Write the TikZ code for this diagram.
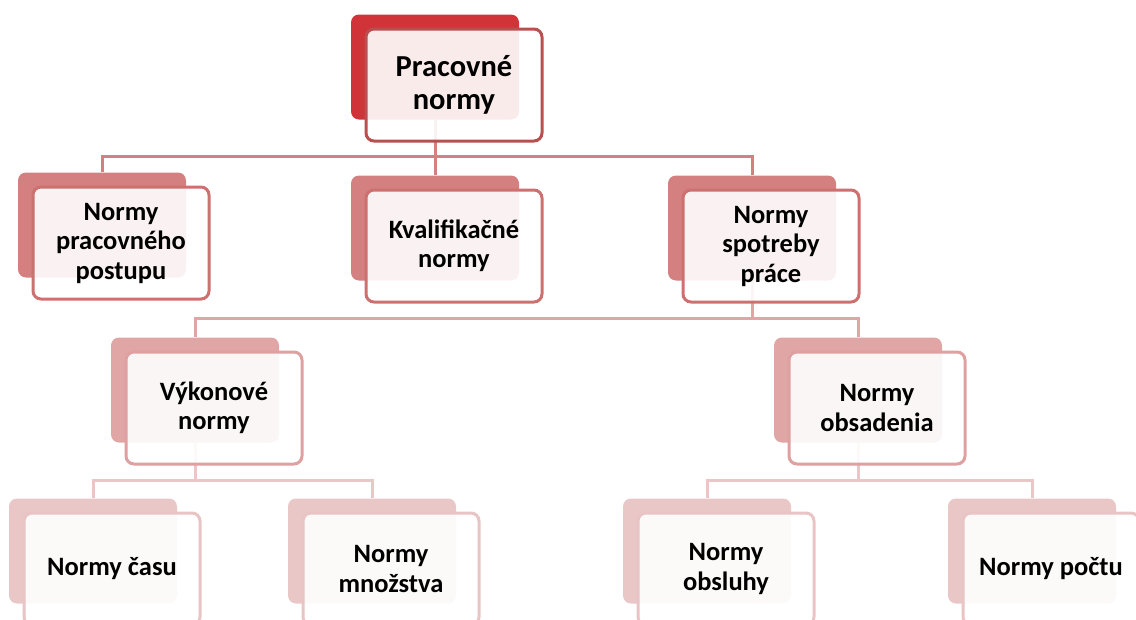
\documentclass[tikz,border=0pt]{standalone}
\usepackage{fontspec}
\setmainfont{Carlito}
\pgfdeclarelayer{links}
\pgfsetlayers{links,main}

% level colours: shadow card, framed card, connector
\definecolor{back0}{RGB}{209,52,56}
\definecolor{edge0}{RGB}{184,80,80}
\definecolor{back1}{RGB}{212,128,128}
\definecolor{edge1}{RGB}{205,112,112}
\definecolor{back2}{RGB}{224,166,166}
\definecolor{edge2}{RGB}{222,160,160}
\definecolor{back3}{RGB}{234,199,199}
\definecolor{edge3}{RGB}{232,196,196}

\tikzset{
  card/.style={rounded corners=8pt, minimum width=168pt, minimum height=105pt, inner sep=0pt},
  frame/.style={rounded corners=8pt, minimum width=176pt, minimum height=112pt, inner sep=0pt,
    line width=3pt, fill=white, fill opacity=0.9},
  caption/.style={font=\bfseries\fontsize{26.5}{29.5}\selectfont, align=center, text=black},
  caption0/.style={font=\bfseries\fontsize{30.5}{33}\selectfont, align=center, text=black},
  link/.style={line width=3pt},
}

% #1 name, #2 x, #3 y (centre of the shadow card), #4 level, #5 text, #6 caption style
\newcommand\normcard[6]{%
  \node[card, fill=back#4] (#1b) at (#2,#3) {};
  \node[frame, draw=edge#4] (#1f) at ({#2+19},{#3+18}) {};
  \node[#6] (#1t) at (#1f.center) {#5};
}

\begin{document}
\begin{tikzpicture}[x=1pt,y=-1pt]
\useasboundingbox (0,0) rectangle (1136,619);

\normcard{root}{435}{67}{0}{Pracovné\\normy}{caption0}

\normcard{post}{102}{225}{1}{Normy\\pracovného\\postupu}{caption}
\normcard{kval}{435}{228}{1}{Kvalifikačné\\normy}{caption}
\normcard{spot}{752}{228}{1}{Normy\\spotreby\\práce}{caption}

\normcard{vyk}{195}{390}{2}{Výkonové\\normy}{caption}
\normcard{obs}{858}{390}{2}{Normy\\obsadenia}{caption}

\normcard{cas}{93}{551}{3}{Normy času}{caption}
\normcard{mno}{372}{551}{3}{Normy\\množstva}{caption}
\normcard{obl}{707}{551}{3}{Normy\\obsluhy}{caption}
\normcard{poc}{1032}{551}{3}{Normy počtu}{caption}

\coordinate (bus1) at (0,156);
\coordinate (bus2) at (0,318);
\coordinate (bus3) at (0,480);

\begin{pgfonlayer}{links}
  \foreach \c in {post,kval,spot}
    \draw[link, draw=back1] (rootb.south) -- (rootb.south |- bus1) -| (\c b.north);
  \foreach \c in {vyk,obs}
    \draw[link, draw=back2] (spotb.south) -- (spotb.south |- bus2) -| (\c b.north);
  \foreach \c in {cas,mno}
    \draw[link, draw=back3] (vykb.south) -- (vykb.south |- bus3) -| (\c b.north);
  \foreach \c in {obl,poc}
    \draw[link, draw=back3] (obsb.south) -- (obsb.south |- bus3) -| (\c b.north);
\end{pgfonlayer}
\end{tikzpicture}
\end{document}
